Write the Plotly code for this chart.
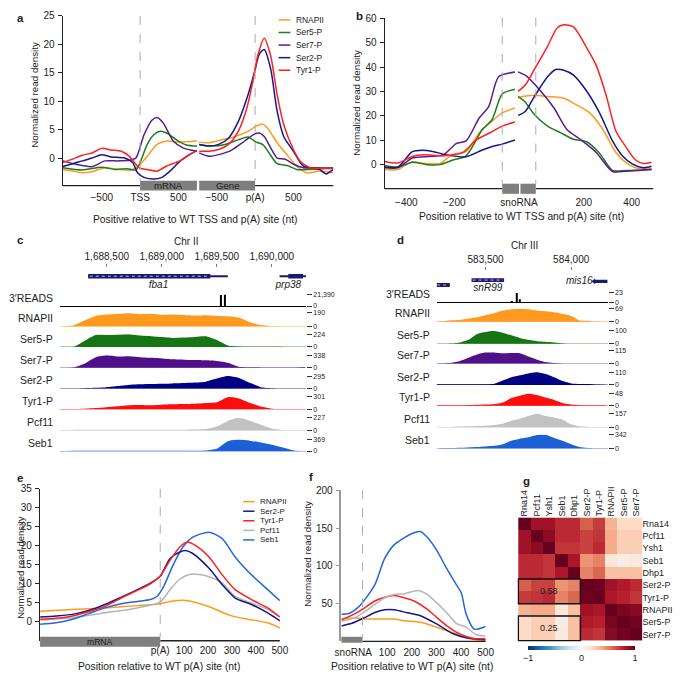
import plotly.graph_objects as go

# the page body has an 8 px default margin: the figure is sized and shifted so the
# picture lines up with the 685x676 window
OFF = 8
W, H = 685 - OFF, 676 - OFF
FONT = "Liberation Sans, Arial, Helvetica, sans-serif"

COL = {"RNAPII": "#FF9A1F", "Ser5-P": "#1E7D1E", "Ser7-P": "#5B1A90", "Ser2-P": "#16168C",
       "Tyr1-P": "#FF2020", "Pcf11": "#B5B5B5", "Seb1": "#2468D8"}
TCOL = {"3′READS": "#000000", "RNAPII": "#FF9A1F", "Ser5-P": "#157515", "Ser7-P": "#50108A",
        "Ser2-P": "#000085", "Tyr1-P": "#FF0C0C", "Pcf11": "#C2C2C2", "Seb1": "#1C5FD6"}
TINT = {"3′READS": "#000000", "RNAPII": "#FFD7A0", "Ser5-P": "#A9D4A9", "Ser7-P": "#C9B0E0",
        "Ser2-P": "#A0A0D8", "Tyr1-P": "#FFA0A0", "Pcf11": "#E2E2E2", "Seb1": "#A3C0F0"}

# ---------------- panel a data (TSS-relative half, p(A)-relative half) ----------------
a_rnapii_tss_x = [-1008, -881, -754, -627, -458, -288, -119, 0, 93, 220, 347, 517, 741]
a_rnapii_tss_y = [-2, -2.3, -2.6, -2.4, -1.7, -2, -2.1, -1.1, 0.3, 2.4, 3, 2.8, 3]
a_rnapii_pa_x = [-729, -602, -432, -263, -93, 13, 97, 161, 288, 415, 542, 670, 839, 1021]
a_rnapii_pa_y = [2.8, 2.7, 3.2, 3.8, 4.7, 5.6, 6, 5.3, 2.7, 0.6, -1.4, -2.6, -2.3, -2.6]

a_ser5_tss_x = [-1008, -754, -500, -330, -161, -55, 8, 93, 178, 263, 347, 475, 602, 741]
a_ser5_tss_y = [-1.7, -2.1, -1.6, -2, -1.9, -2.1, -0.5, 2.4, 4.1, 4.7, 4.4, 3.2, 2.3, 2.1]
a_ser5_pa_x = [-729, -559, -390, -220, -93, 13, 97, 182, 288, 415, 542, 712, 1021]
a_ser5_pa_y = [2.4, 2.1, 2.4, 3.2, 3.7, 2.8, 2.4, 0.9, -1, -1.3, -2, -2, -1.7]

a_ser7_tss_x = [-1008, -839, -627, -458, -288, -140, -55, 51, 157, 229, 305, 432, 559, 741]
a_ser7_tss_y = [-0.5, -1.1, -1.5, -0.5, -0.5, -0.4, 0, 4.1, 6.7, 7.1, 6.1, 3, 1.8, 1.2]
a_ser7_pa_x = [-729, -602, -475, -305, -136, -8, 55, 119, 203, 288, 394, 500, 627, 839, 1021]
a_ser7_pa_y = [0.9, 0.3, 0.6, 1.4, 3, 4.2, 4.4, 3.8, 1.8, 0, -0.2, -1.1, -1.7, -1.7, -1.8]

a_ser2_tss_x = [-1008, -881, -754, -627, -500, -373, -203, -97, -34, 51, 178, 284, 390, 517, 644, 741]
a_ser2_tss_y = [-1.5, -1, -0.5, 0, 0.6, 0.2, 0, -0.8, -2.6, -3.4, -3.7, -3.4, -2.3, -0.6, 0.6, 1.3]
a_ser2_pa_x = [-729, -602, -475, -347, -220, -93, -8, 55, 119, 203, 288, 373, 500, 627, 839, 924, 1021]
a_ser2_pa_y = [2.4, 2.1, 2.4, 3.5, 6.4, 11.1, 15.1, 18.3, 19.1, 15.7, 8.2, 3.8, 1.2, -1.4, -2, -2.8, -2]

a_tyr1_tss_x = [-1008, -881, -754, -627, -500, -373, -246, -140, -55, 0, 93, 220, 347, 517, 644, 741]
a_tyr1_tss_y = [-0.8, -0.2, 0.5, 0.9, 1.7, 1.4, 1.2, 0.3, -1.1, -1.8, -2, -2.3, -1.4, -0.5, 0.6, 1.3]
a_tyr1_pa_x = [-729, -602, -475, -347, -220, -114, -30, 34, 119, 203, 288, 373, 500, 585, 712, 839, 1021]
a_tyr1_pa_y = [1.2, 1.2, 1.5, 2.4, 4.7, 8.5, 13.4, 18, 21.1, 18, 11.1, 5.9, 1.5, -0.5, -1.7, -1.8, -1.9]

A_TICK_VALS = [-500, 0, 500, 1000, 1500, 2000]
A_TICK_TEXT = ["−500", "TSS", "500", "−500", "p(A)", "500"]

# ---------------- panel b data ----------------
b_rnapii_tss_x = [-490, -436, -375, -327, -259, -205, -151, -96, -42, 0, 53]
b_rnapii_tss_y = [-2, -2, 1.2, 0.5, 0.5, 4.3, 5.3, 13, 17.8, 21.2, 23.2]
b_rnapii_pa_x = [-74, -6, 49, 117, 170, 225, 280, 334, 375, 415, 483]
b_rnapii_pa_y = [27.6, 28.4, 27.9, 27.2, 24.5, 21.2, 14.4, 5, 0.9, -1.3, -1.8]

b_ser5_tss_x = [-490, -436, -375, -314, -259, -205, -151, -83, -42, 0, 53]
b_ser5_tss_y = [-0.4, -1, 1, 0, 0, 1.9, 3.6, 14.4, 18.5, 29, 30.9]
b_ser5_pa_x = [-74, -46, -6, 49, 103, 157, 212, 266, 320, 375, 483]
b_ser5_pa_y = [27.9, 25.9, 20.5, 15.8, 13.1, 10.4, 9.4, 4.7, -2.4, -2.4, -2]

b_ser7_tss_x = [-490, -436, -375, -327, -246, -192, -151, -96, -56, -15, 53]
b_ser7_tss_y = [-1.3, -1.3, 2.7, 3.2, 4, 8.6, 9.7, 19.1, 23.9, 36, 38]
b_ser7_pa_x = [-74, -40, 22, 76, 130, 185, 252, 320, 375, 483]
b_ser7_pa_y = [38, 36.4, 30, 23.2, 14.4, 10.4, 5, -2.8, -2.7, -2]

b_ser2_tss_x = [-490, -436, -375, -334, -286, -232, -151, -83, -42, 0, 53]
b_ser2_tss_y = [-1, -1, 5.3, 5.9, 5.3, 4, 3.2, 6, 7.4, 8.4, 10.1]
b_ser2_pa_x = [-74, -44, -6, 49, 83, 117, 157, 212, 266, 320, 361, 402, 449, 483]
b_ser2_pa_y = [20.2, 21.8, 27.9, 36, 39, 38.7, 36.7, 30.2, 21.2, 9.7, 3.6, 0.3, -1.3, -0.7]

b_tyr1_tss_x = [-490, -436, -375, -327, -246, -164, -110, -42, 0, 53]
b_tyr1_tss_y = [1.3, 0.7, 3.3, 4, 3.6, 5, 10, 13.5, 15.8, 17.5]
b_tyr1_pa_x = [-74, -44, -6, 49, 89, 117, 157, 212, 252, 293, 334, 368, 415, 449, 483]
b_tyr1_pa_y = [30, 32.6, 39, 48.5, 56, 57.3, 56.5, 48, 40.7, 28.6, 13.8, 8.4, 2, 0.5, 1]

B_TICK_VALS = [-400, -200, 70, 340, 540]
B_TICK_TEXT = ["−400", "−200", "snoRNA", "200", "400"]

# ---------------- panel c data ----------------
C_POS = [1688100, 1688200, 1688300, 1688400, 1688500, 1688600, 1688700, 1688800, 1688900,
         1689000, 1689100, 1689200, 1689300, 1689400, 1689500, 1689600, 1689700, 1689800,
         1689900, 1690000, 1690100, 1690200, 1690300]
c_rnapii = [0, 15, 86, 148, 167, 175, 184, 171, 177, 162, 167, 162, 152, 156, 148, 143, 124, 57, 19, 4, 0, 0, 0]
c_ser5 = [0, 4, 112, 213, 213, 217, 224, 202, 190, 175, 161, 168, 179, 190, 123, 27, 7, 2, 2, 2, 0, 0, 0]
c_ser7 = [0, 10, 118, 287, 338, 304, 311, 287, 270, 254, 230, 220, 210, 203, 186, 135, 27, 10, 7, 3, 3, 3, 17]
c_ser2 = [0, 0, 6, 15, 30, 59, 83, 97, 103, 109, 118, 127, 139, 162, 236, 295, 251, 133, 30, 6, 0, 0, 0]
c_tyr1 = [0, 3, 9, 24, 45, 66, 90, 96, 90, 105, 114, 120, 126, 144, 166, 286, 256, 150, 60, 9, 0, 0, 0]
c_pcf11 = [0, 7, 9, 9, 9, 9, 11, 11, 11, 11, 11, 11, 14, 23, 68, 170, 227, 170, 102, 34, 7, 0, 0]
c_seb1 = [0, 7, 11, 11, 11, 11, 11, 11, 11, 11, 11, 11, 11, 18, 74, 314, 369, 332, 277, 203, 111, 18, 0]
c_reads_pos = [1689541, 1689571]
c_reads = [20500, 21390]
C_TRACKS = ["3′READS", "RNAPII", "Ser5-P", "Ser7-P", "Ser2-P", "Tyr1-P", "Pcf11", "Seb1"]
C_MAX = [21390, 190, 224, 338, 295, 301, 227, 369]
C_TICKS = [1688500, 1689000, 1689500, 1690000]
C_TICK_TEXT = ["1,688,500", "1,689,000", "1,689,500", "1,690,000"]
C_GENE_NAMES = ["fba1", "prp38"]
C_GENE_START = [1688331, 1690070]
C_GENE_END = [1689600, 1690328]
C_CDS_START = [1688331, 1690150]
C_CDS_END = [1689441, 1690283]

# ---------------- panel d data ----------------
D_POS = [583200, 583250, 583300, 583350, 583400, 583450, 583500, 583550, 583600, 583650, 583700,
         583750, 583800, 583850, 583900, 583950, 584000, 584050, 584100, 584150, 584200]
d_rnapii = [1, 3, 8, 10, 17, 24, 35, 45, 59, 66, 69, 66, 59, 55, 50, 41, 31, 7, 6, 1, 0]
d_ser5 = [0, 0, 2, 10, 30, 75, 90, 97, 85, 65, 45, 30, 20, 15, 10, 3, 0, 0, 0, 0, 0]
d_ser7 = [0, 2, 6, 23, 52, 81, 98, 100, 92, 94, 92, 63, 35, 14, 5, 1, 0, 0, 0, 0, 0]
d_ser2 = [6, 6, 6, 6, 6, 6, 6, 11, 39, 66, 83, 99, 108, 94, 66, 33, 13, 9, 7, 3, 2]
d_tyr1 = [1.5, 1.5, 1.5, 1.5, 2.4, 3.8, 4.8, 5.8, 12, 29, 38, 46, 41, 31, 22, 10, 4, 2, 2, 2, 2]
d_pcf11 = [0, 0, 2, 5, 8, 13, 16, 24, 39, 71, 94, 126, 152, 126, 110, 86, 31, 8, 2, 0, 0]
d_seb1 = [0, 7, 10, 17, 24, 34, 48, 62, 103, 188, 239, 274, 332, 335, 257, 188, 103, 34, 10, 3, 0]
d_reads_pos = [583637, 583652, 583684, 583702, 584200]
d_reads = [2, 3, 23, 8, 1]
D_MAX = [23, 69, 100, 115, 110, 48, 157, 342]
D_TICKS = [583500, 584000]
D_TICK_TEXT = ["583,500", "584,000"]

# ---------------- panel e data ----------------
e_rnapii_x = [-502, -367, -231, -95, 0, 41, 100, 136, 204, 299, 367, 449, 500]
e_rnapii_y = [2.85, 3.3, 3.7, 4.3, 4.8, 5.4, 5.7, 5.3, 4, 1.6, 0.7, -0.2, -1.6]
e_ser2_x = [-502, -435, -367, -299, -231, -163, -95, -41, 0, 41, 82, 106, 136, 204, 259, 313, 381, 449, 500]
e_ser2_y = [1.3, 1.6, 2, 3, 4.6, 6.5, 8.5, 10.2, 12, 16.7, 18.4, 18.8, 18, 14.1, 9.8, 6.3, 4.6, 2.4, 0.3]
e_tyr1_x = [-502, -435, -367, -299, -231, -163, -95, -41, 0, 41, 82, 113, 150, 204, 259, 313, 381, 449, 500]
e_tyr1_y = [0.7, 0.95, 1.6, 2.7, 4.1, 6.3, 8.3, 10, 12.1, 16.2, 19.7, 21, 20, 17.1, 12.4, 8.5, 5.9, 3.7, 1.3]
e_pcf11_x = [-502, -367, -231, -95, 0, 41, 82, 122, 163, 204, 259, 313, 381, 449, 500]
e_pcf11_y = [0.5, 1.1, 2.4, 3.7, 5.3, 8.5, 11.3, 12.5, 12.5, 11.9, 10.2, 6.7, 5, 3.3, 1.3]
e_seb1_x = [-502, -435, -367, -299, -231, -163, -95, -41, -14, 14, 54, 95, 136, 204, 259, 313, 381, 449, 500]
e_seb1_y = [-0.6, -0.2, 0.7, 2.2, 3.7, 4.8, 5.4, 5.9, 6.7, 9.3, 15, 19.7, 22.3, 23.6, 21.9, 17.1, 12.4, 8.5, 5.6]
E_TICK_VALS = [0, 100, 200, 300, 400, 500]
E_TICK_TEXT = ["p(A)", "100", "200", "300", "400", "500"]

# ---------------- panel f data ----------------
f_rnapii_x = [-86, -29, 10, 76, 129, 169, 235, 301, 341, 381, 421, 460, 500]
f_rnapii_y = [29.6, 30.9, 29.6, 29.6, 29.6, 27.5, 25.3, 18.8, 14.4, 10.1, 4.9, 2.3, 1.4]
f_ser2_x = [-86, -43, 10, 50, 90, 129, 182, 235, 301, 368, 421, 500]
f_ser2_y = [20.5, 24, 31.8, 38.3, 41.8, 41.8, 37.8, 34, 23.1, 10.1, 4.9, 2.3]
f_tyr1_x = [-86, -29, 10, 50, 90, 129, 169, 209, 262, 301, 341, 381, 421, 460, 500]
f_tyr1_y = [28.3, 37, 44.8, 53.5, 58.5, 60.8, 57.8, 53.5, 42.7, 31.9, 21, 12.3, 6.6, 3.6, 3.6]
f_pcf11_x = [-86, -29, 10, 50, 90, 129, 169, 209, 228, 262, 301, 341, 381, 421, 460, 500]
f_pcf11_y = [26.6, 31.8, 39.6, 49, 57.8, 62.2, 63, 66.5, 67.3, 62.2, 51.3, 38.3, 24, 18.8, 9.2, 7]
f_seb1_x = [-86, -56, -16, 10, 50, 90, 129, 169, 209, 235, 262, 301, 341, 381, 401, 421, 454, 500]
f_seb1_y = [36.1, 37, 45.7, 55.6, 75, 109.8, 128, 137, 143.7, 145.3, 138, 120.7, 96.8, 75, 64.3, 36.1, 16.2, 19.7]
F_TICK_VALS = [-38, 100, 200, 300, 400, 500]
F_TICK_TEXT = ["snoRNA", "100", "200", "300", "400", "500"]

# ---------------- panel g data ----------------
G_NAMES = ["Rna14", "Pcf11", "Ysh1", "Seb1", "Dhp1", "Ser2-P", "Tyr1-P", "RNAPII", "Ser5-P", "Ser7-P"]
g_rna14 = [1, 0.85, 0.85, 0.75, 0.75, 0.6, 0.7, 0.35, 0.2, 0.2]
g_pcf11 = [0.85, 1, 0.9, 0.75, 0.75, 0.68, 0.72, 0.38, 0.25, 0.25]
g_ysh1 = [0.85, 0.9, 1, 0.72, 0.72, 0.68, 0.75, 0.38, 0.25, 0.25]
g_seb1 = [0.75, 0.75, 0.72, 1, 0.82, 0.45, 0.5, 0.12, 0.08, 0.1]
g_dhp1 = [0.75, 0.75, 0.72, 0.82, 1, 0.5, 0.58, 0.3, 0.3, 0.3]
g_ser2 = [0.6, 0.68, 0.68, 0.45, 0.5, 1, 0.98, 0.85, 0.8, 0.75]
g_tyr1 = [0.7, 0.72, 0.75, 0.5, 0.58, 0.98, 1, 0.82, 0.78, 0.72]
g_rnapii = [0.35, 0.38, 0.38, 0.12, 0.3, 0.85, 0.82, 1, 0.95, 0.92]
g_ser5 = [0.2, 0.25, 0.25, 0.08, 0.3, 0.8, 0.78, 0.95, 1, 0.97]
g_ser7 = [0.2, 0.25, 0.25, 0.1, 0.3, 0.75, 0.72, 0.92, 0.97, 1]
G_BOX_TEXT = ["0.58", "0.25"]

RDBU = [[0, "#053061"], [0.1, "#2166ac"], [0.2, "#4393c3"], [0.3, "#92c5de"], [0.4, "#d1e5f0"],
        [0.5, "#f7f7f7"], [0.6, "#fddbc7"], [0.7, "#f4a582"], [0.8, "#d6604d"], [0.9, "#b2182b"],
        [1, "#67001f"]]

TICK_FS = 10
XT_FS = 10.3
YT_FS = 9.8

# ====================================================================================
fig = go.Figure()
shapes, annots = [], []
L = dict(width=W, height=H, margin=dict(l=0, r=0, t=0, b=0), paper_bgcolor="white",
         plot_bgcolor="rgba(0,0,0,0)", showlegend=False, hovermode=False,
         font=dict(family=FONT, size=TICK_FS, color="#222"))


def X(p):
    return (p - OFF) / W


def Y(p):
    return 1 - (p - OFF) / H


def lin(v, r, d):
    return d[0] + (v - r[0]) / (r[1] - r[0]) * (d[1] - d[0])


def text(x, y, s, size=9.5, xa="center", ya="middle", angle=0, color="#222"):
    annots.append(dict(x=X(x), y=Y(y), xref="paper", yref="paper", text=s, showarrow=False,
                       xanchor=xa, yanchor=ya, textangle=angle,
                       font=dict(size=size, color=color, family=FONT)))


def pline(x0, y0, x1, y1, color="#222", width=1.3, dash=None):
    ln = dict(color=color, width=width)
    if dash:
        ln["dash"] = dash
    shapes.append(dict(type="line", xref="paper", yref="paper", x0=X(x0), y0=Y(y0),
                       x1=X(x1), y1=Y(y1), line=ln))


def prect(x0, y0, x1, y1, color):
    shapes.append(dict(type="rect", xref="paper", yref="paper", x0=X(x0), y0=Y(y1),
                       x1=X(x1), y1=Y(y0), fillcolor=color, line=dict(width=0)))


def ax(**kw):
    d = dict(showgrid=False, zeroline=False, showline=False, ticks="", fixedrange=True,
             tickfont=dict(size=TICK_FS, color="#222"))
    d.update(kw)
    return d


def xax(dom0, dom1, rng, anchor, vals, texts, standoff):
    return ax(domain=[X(dom0), X(dom1)], range=list(rng), anchor=anchor, tickmode="array",
              tickvals=vals, ticktext=texts, ticklabelstandoff=standoff)


def yax(dom_bottom, dom_top, rng, anchor, vals, linecolor="#222", lw=1.3):
    return ax(domain=[Y(dom_bottom), Y(dom_top)], range=list(rng), anchor=anchor,
              showline=True, linecolor=linecolor, linewidth=lw, tickvals=vals,
              ticks="outside", ticklen=4, tickcolor=linecolor, tickwidth=1,
              ticklabelstandoff=1)


def curve(x, y, color, xa, ya, w=1.5):
    fig.add_trace(go.Scatter(x=x, y=y, mode="lines", connectgaps=False,
                             line=dict(color=color, width=w, shape="spline", smoothing=0.7),
                             xaxis=xa, yaxis=ya, hoverinfo="skip"))


# ---------------- panel a ----------------
A_XR, A_XD = (-1008, 2520), (57, 334)
A_YR = (-4.86, 25)
A_PA = 1500
L["xaxis"] = xax(57, 334, A_XR, "y", A_TICK_VALS, A_TICK_TEXT, 4)
L["yaxis"] = yax(182, 10, A_YR, "x", [0, 5, 10, 15, 20, 25])
a_sets = [("RNAPII", a_rnapii_tss_x, a_rnapii_tss_y, a_rnapii_pa_x, a_rnapii_pa_y),
          ("Ser5-P", a_ser5_tss_x, a_ser5_tss_y, a_ser5_pa_x, a_ser5_pa_y),
          ("Ser7-P", a_ser7_tss_x, a_ser7_tss_y, a_ser7_pa_x, a_ser7_pa_y),
          ("Ser2-P", a_ser2_tss_x, a_ser2_tss_y, a_ser2_pa_x, a_ser2_pa_y),
          ("Tyr1-P", a_tyr1_tss_x, a_tyr1_tss_y, a_tyr1_pa_x, a_tyr1_pa_y)]
for name, tx, ty, qx, qy in a_sets:
    curve(tx + [None] + [p + A_PA for p in qx], ty + [None] + qy, COL[name], "x", "y")
xa = lambda v: lin(v, A_XR, A_XD)
pline(xa(0), 10, xa(0), 177, "#AAAAAA", 1, "dash")
pline(xa(A_PA), 10, xa(A_PA), 177, "#AAAAAA", 1, "dash")
pline(57, 182, xa(0), 182)
pline(xa(A_PA), 182, 334, 182)
prect(xa(0), 177, xa(741), 187, "#7F7F7F")
prect(xa(771), 177, xa(A_PA), 187, "#7F7F7F")
text((xa(0) + xa(741)) / 2, 182.2, "mRNA", 9.6)
text((xa(771) + xa(A_PA)) / 2, 182.2, "Gene", 9.6)
text(28.3, 90, "Normalized read density", YT_FS, angle=-90)
text(192.5, 216.7, "Positive relative to WT TSS and p(A) site (nt)", XT_FS)
for i, (name, *_r) in enumerate(a_sets):
    yy = 14 + 12.75 * i
    pline(278, yy, 290, yy, COL[name], 1.5)
    text(294, yy, name, 8.4, xa="left")

# ---------------- panel b ----------------
B_XR, B_XD = (-490, 630), (386.7, 661.7)
B_YR = (-9.83, 60)
B_PA = 140
L["xaxis2"] = xax(386.7, 661.7, B_XR, "y2", B_TICK_VALS, B_TICK_TEXT, 6)
L["yaxis2"] = yax(185, 12.3, B_YR, "x2", [0, 10, 20, 30, 40, 50, 60])
b_sets = [("RNAPII", b_rnapii_tss_x, b_rnapii_tss_y, b_rnapii_pa_x, b_rnapii_pa_y),
          ("Ser5-P", b_ser5_tss_x, b_ser5_tss_y, b_ser5_pa_x, b_ser5_pa_y),
          ("Ser7-P", b_ser7_tss_x, b_ser7_tss_y, b_ser7_pa_x, b_ser7_pa_y),
          ("Ser2-P", b_ser2_tss_x, b_ser2_tss_y, b_ser2_pa_x, b_ser2_pa_y),
          ("Tyr1-P", b_tyr1_tss_x, b_tyr1_tss_y, b_tyr1_pa_x, b_tyr1_pa_y)]
for name, tx, ty, qx, qy in b_sets:
    curve(tx + [None] + [p + B_PA for p in qx], ty + [None] + qy, COL[name], "x2", "y2")
xb = lambda v: lin(v, B_XR, B_XD)
pline(xb(0), 11.7, xb(0), 180, "#AAAAAA", 1, "dash")
pline(xb(B_PA), 11.7, xb(B_PA), 180, "#AAAAAA", 1, "dash")
pline(386.7, 185, xb(0), 185)
pline(xb(B_PA), 185, 661.7, 185)
prect(xb(0), 180, xb(70), 190.3, "#7F7F7F")
prect(xb(76), 180, xb(B_PA), 190.3, "#7F7F7F")
text(358.3, 98, "Normalized read density", YT_FS, angle=-90)
text(526.7, 213.3, "Position relative to WT TSS and p(A) site (nt)", XT_FS)

# ---------------- panel c ----------------
C_XR, C_XD = (1688074, 1690310), (54, 306)
C_BASE = [304, 324.5, 345.5, 366.5, 387.5, 408.5, 430, 451]
C_TOP = [292.3, 311, 332.7, 354, 375, 395.7, 417.3, 439.3]
L["xaxis3"] = ax(domain=[X(54), X(306)], range=list(C_XR), anchor="y3", side="top",
                 tickvals=C_TICKS, ticktext=C_TICK_TEXT, ticks="outside", ticklen=3,
                 tickcolor="#777", tickwidth=1)
L["yaxis3"] = ax(domain=[Y(290), Y(265)], range=[0, 1], anchor="x3", showticklabels=False)
fig.add_trace(go.Scatter(x=[1688970, 1690150], y=[0.28, 0.28],
                         text=["<i>" + g + "</i>" for g in C_GENE_NAMES], mode="text",
                         textfont=dict(size=10, color="#222", family=FONT),
                         xaxis="x3", yaxis="y3", hoverinfo="skip", cliponaxis=False))
for g0, g1, c0, c1 in zip(C_GENE_START, C_GENE_END, C_CDS_START, C_CDS_END):
    shapes.append(dict(type="rect", xref="x3", yref="y3", x0=g0, x1=g1, y0=0.61, y1=0.69,
                       fillcolor="#1A1A6E", line=dict(width=0)))
    shapes.append(dict(type="rect", xref="x3", yref="y3", x0=c0, x1=c1, y0=0.56, y1=0.74,
                       fillcolor="#1A1A6E", line=dict(width=0)))
shapes.append(dict(type="line", xref="x3", yref="y3", x0=C_CDS_START[0] + 15, x1=C_CDS_END[0] - 15,
                   y0=0.65, y1=0.65, line=dict(color="#B8B8E8", width=1, dash="dot")))
text(183, 239, "Chr II", 10)

c_vals = [c_reads, c_rnapii, c_ser5, c_ser7, c_ser2, c_tyr1, c_pcf11, c_seb1]
for i, name in enumerate(C_TRACKS):
    n = 4 + i
    top_v = C_MAX[i] * 1.002
    pad = 0.06
    h = C_BASE[i] - C_TOP[i]
    L["yaxis%d" % n] = ax(domain=[Y(C_BASE[i] + h * pad), Y(C_TOP[i])],
                          range=[-top_v * pad, top_v], anchor="x3", side="right",
                          tickvals=[0, C_MAX[i]], ticktext=["0", "{:,}".format(C_MAX[i])],
                          ticks="outside", ticklen=5, tickcolor="#333", tickwidth=1,
                          tickfont=dict(size=7, color="#222"),
                          zeroline=True, zerolinecolor=TINT[name], zerolinewidth=1)
    if i == 0:
        fig.add_trace(go.Bar(x=c_reads_pos, y=c_vals[i], width=11, marker_color="black",
                             marker_line_width=0, xaxis="x3", yaxis="y%d" % n, hoverinfo="skip"))
    else:
        fig.add_trace(go.Scatter(x=C_POS, y=c_vals[i], mode="lines", fill="tozeroy",
                                 fillcolor=TCOL[name],
                                 line=dict(width=0, shape="spline", smoothing=0.6),
                                 xaxis="x3", yaxis="y%d" % n, hoverinfo="skip"))
    text(48.5, C_BASE[i] - 8, name, 10.5, xa="right")

# ---------------- panel d ----------------
D_XR, D_XD = (583215, 584213), (440, 615)
D_BASE = [300.7, 320, 342.3, 362.3, 384, 405, 426.7, 448.3]
D_TOP = [290.7, 306.7, 329, 349.3, 371, 392.3, 412.7, 434.3]
L["xaxis4"] = ax(domain=[X(440), X(615)], range=list(D_XR), anchor="y12", side="top",
                 tickvals=D_TICKS, ticktext=D_TICK_TEXT, ticks="outside", ticklen=3,
                 tickcolor="#777", tickwidth=1)
L["yaxis12"] = ax(domain=[Y(292), Y(269)], range=[0, 1], anchor="x4", showticklabels=False)
fig.add_trace(go.Scatter(x=[583513, 584125], y=[0.23, 0.565],
                         text=["<i>snR99</i>", "<i>mis16</i>"], mode="text",
                         textposition=["middle center", "middle left"],
                         textfont=dict(size=10, color="#222", family=FONT),
                         xaxis="x4", yaxis="y12", hoverinfo="skip", cliponaxis=False))
for g0, g1, yc in [(583211, 583291, 0.404), (583418, 583608, 0.622)]:
    shapes.append(dict(type="rect", xref="x4", yref="y12", x0=g0, x1=g1, y0=yc - 0.085,
                       y1=yc + 0.085, fillcolor="#1A1A6E", line=dict(width=0)))
    shapes.append(dict(type="line", xref="x4", yref="y12", x0=g0 + 6, x1=g1 - 6, y0=yc, y1=yc,
                       line=dict(color="#B8B8E8", width=1, dash="dot")))
shapes.append(dict(type="rect", xref="x4", yref="y12", x0=584137, x1=584213, y0=0.49, y1=0.64,
                   fillcolor="#1A1A6E", line=dict(width=0)))
shapes.append(dict(type="path", xref="x4", yref="y12",
                   path="M 584118,0.565 L 584140,0.44 L 584140,0.69 Z",
                   fillcolor="#1A1A6E", line=dict(width=0)))
text(530, 242.7, "Chr III", 10)

d_vals = [d_reads, d_rnapii, d_ser5, d_ser7, d_ser2, d_tyr1, d_pcf11, d_seb1]
for i, name in enumerate(C_TRACKS):
    n = 13 + i
    top_v = D_MAX[i] * 1.002
    pad = 0.06
    h = D_BASE[i] - D_TOP[i]
    L["yaxis%d" % n] = ax(domain=[Y(D_BASE[i] + h * pad), Y(D_TOP[i])],
                          range=[-top_v * pad, top_v], anchor="x4", side="right",
                          tickvals=[0, D_MAX[i]], ticktext=["0", "{:,}".format(D_MAX[i])],
                          ticks="outside", ticklen=5, tickcolor="#333", tickwidth=1,
                          tickfont=dict(size=7, color="#222"),
                          zeroline=True, zerolinecolor=TINT[name], zerolinewidth=1)
    if i == 0:
        fig.add_trace(go.Bar(x=d_reads_pos, y=d_vals[i], width=6, marker_color="black",
                             marker_line_width=0, xaxis="x4", yaxis="y%d" % n, hoverinfo="skip"))
    else:
        fig.add_trace(go.Scatter(x=D_POS, y=d_vals[i], mode="lines", fill="tozeroy",
                                 fillcolor=TCOL[name],
                                 line=dict(width=0, shape="spline", smoothing=0.6),
                                 xaxis="x4", yaxis="y%d" % n, hoverinfo="skip"))
    text(435, D_BASE[i] - 8.5, name, 10.5, xa="right")

# ---------------- panel e ----------------
E_XR, E_XD = (-502, 500), (33.7, 279.3)
E_YR = (-4.93, 35)
L["xaxis5"] = xax(33.7, 279.3, E_XR, "y21", E_TICK_VALS, E_TICK_TEXT, 2)
L["yaxis21"] = yax(643.3, 489.3, E_YR, "x5", [0, 5, 10, 15, 20, 25, 30, 35])
e_sets = [("RNAPII", e_rnapii_x, e_rnapii_y), ("Ser2-P", e_ser2_x, e_ser2_y),
          ("Tyr1-P", e_tyr1_x, e_tyr1_y), ("Pcf11", e_pcf11_x, e_pcf11_y),
          ("Seb1", e_seb1_x, e_seb1_y)]
for name, x, y in [e_sets[0], e_sets[3], e_sets[4], e_sets[1], e_sets[2]]:
    curve(x, y, COL[name], "x5", "y21")
xe = lambda v: lin(v, E_XR, E_XD)
pline(xe(0), 489.3, xe(0), 639.3, "#AAAAAA", 1, "dash")
pline(xe(0), 643.3, 279.3, 643.3)
prect(33.7, 639.3, xe(0), 649.3, "#7F7F7F")
text((33.7 + xe(0)) / 2, 644.4, "mRNA", 8.6)
text(13.5, 569, "Normalized read density", 9.5, angle=-90)
text(155, 669, "Position relative to WT p(A) site (nt)", XT_FS)
for i, (name, *_r) in enumerate(e_sets):
    yy = 502.3 + 9.7 * i
    pline(241.7, yy, 253.3, yy, COL[name], 1.5)
    text(257.3, yy, name, 8, xa="left")

# ---------------- panel f ----------------
F_XR, F_XD = (-86, 500), (342.3, 490)
F_YR = (0, 200)
L["xaxis6"] = xax(342.3, 490, F_XR, "y22", F_TICK_VALS, F_TICK_TEXT, 4)
L["yaxis22"] = yax(644, 490.7, F_YR, "x6", [50, 100, 150, 200], linecolor="#9A9A9A", lw=1.5)
f_sets = [("RNAPII", f_rnapii_x, f_rnapii_y), ("Ser2-P", f_ser2_x, f_ser2_y),
          ("Tyr1-P", f_tyr1_x, f_tyr1_y), ("Pcf11", f_pcf11_x, f_pcf11_y),
          ("Seb1", f_seb1_x, f_seb1_y)]
for name, x, y in f_sets:
    curve(x, y, COL[name], "x6", "y22")
xf = lambda v: lin(v, F_XR, F_XD)
pline(xf(0), 490.7, xf(0), 639.3, "#AAAAAA", 1, "dash")
pline(xf(0), 644, 490, 644)
prect(342.3, 639.3, xf(0), 645.3, "#7F7F7F")
text(306.7, 555.5, "Normalized read density", YT_FS, angle=-90)
text(415, 669.5, "Position relative to WT p(A) site (nt)", XT_FS)

# ---------------- panel g ----------------
G_Z = [g_rna14, g_pcf11, g_ysh1, g_seb1, g_dhp1, g_ser2, g_tyr1, g_rnapii, g_ser5, g_ser7]
L["xaxis7"] = ax(domain=[X(522.7), X(650.7)], anchor="y23", side="top", type="category",
                 tickangle=-90, tickfont=dict(size=9, color="#222"))
L["yaxis23"] = ax(domain=[Y(644), Y(518.3)], anchor="x7", side="right", type="category",
                  autorange="reversed", tickfont=dict(size=9, color="#222"),
                  ticklabelstandoff=-1)
fig.add_trace(go.Heatmap(z=G_Z, x=G_NAMES, y=G_NAMES, colorscale=RDBU, zmin=-1, zmax=1,
                         xaxis="x7", yaxis="y23", hoverinfo="skip",
                         colorbar=dict(orientation="h", x=X(588.3), xanchor="center",
                                       y=Y(648.3), yanchor="top", len=107, lenmode="pixels",
                                       thickness=4, thicknessmode="pixels", xpad=0, ypad=0,
                                       outlinewidth=0, tickvals=[-1, 0, 1],
                                       ticktext=["−1", "0", "1"], ticks="",
                                       tickfont=dict(size=9, color="#222", family=FONT))))
for (y0, y1), lab in zip([(4.5, 6.5), (7.5, 9.5)], G_BOX_TEXT):
    shapes.append(dict(type="rect", xref="x7", yref="y23", x0=-0.5, x1=4.5, y0=y0, y1=y1,
                       line=dict(color="#111", width=1.5), fillcolor="rgba(0,0,0,0)"))
    annots.append(dict(x=2, y=(y0 + y1) / 2, xref="x7", yref="y23", text=lab, showarrow=False,
                       font=dict(size=9, color="#222", family=FONT)))

# ---------------- panel letters ----------------
for lab, x, y in [("a", 8.5, 12), ("b", 355, 10), ("c", 8.5, 237), ("d", 397, 237),
                  ("e", 8.5, 478), ("f", 307, 477), ("g", 526, 481.7)]:
    text(x, y, "<b>" + lab + "</b>", 11.5, xa="left")

L["shapes"] = shapes
L["annotations"] = annots
fig.update_layout(**L)
fig.write_html("out.html")
